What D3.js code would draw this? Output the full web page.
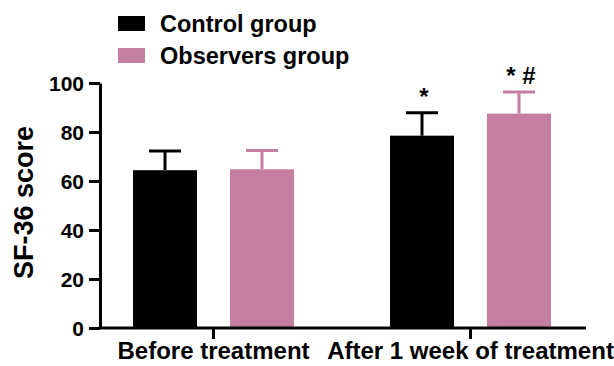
<!DOCTYPE html>
<html>
<head>
<meta charset="utf-8">
<script src="https://cdn.jsdelivr.net/npm/d3@7/dist/d3.min.js"></script>
<style>
  html, body { margin: 0; padding: 0; background: #fff; }
  svg text { font-family: "Liberation Sans", Arial, sans-serif; font-weight: bold; fill: #000; }
</style>
</head>
<body>
<svg id="chart" width="614" height="366"></svg>
<script>
const categories = ["Before treatment", "After 1 week of treatment"];
const seriesNames = ["Control group", "Observers group"];
const controlMeans = [64.4, 78.5];
const controlSD = [7.8, 9.4];
const observersMeans = [64.8, 87.5];
const observersSD = [7.6, 8.8];
const annotations = [["", ""], ["*", "* #"]];
const yTicks = [0, 20, 40, 60, 80, 100];
const colors = ["#000000", "#c47e9f"];

const svg = d3.select("#chart");
const y = d3.scaleLinear().domain([0, 100]).range([328, 83]);
const x0 = d3.scaleBand().domain(categories).range([85, 599]).paddingInner(0).paddingOuter(0);
const x1 = d3.scaleBand().domain(seriesNames).range([48, 209]).paddingInner(0.34).paddingOuter(0);

const rows = [];
categories.forEach((c, i) => {
  rows.push({ cat: c, series: seriesNames[0], mean: controlMeans[i], sd: controlSD[i], note: annotations[i][0], color: colors[0] });
  rows.push({ cat: c, series: seriesNames[1], mean: observersMeans[i], sd: observersSD[i], note: annotations[i][1], color: colors[1] });
});

// error bars (upper only)
const eb = svg.append("g");
rows.forEach(d => {
  const cx = x0(d.cat) + x1(d.series) + x1.bandwidth() / 2;
  eb.append("line").attr("x1", cx).attr("x2", cx).attr("y1", y(d.mean)).attr("y2", y(d.mean + d.sd))
    .attr("stroke", d.color).attr("stroke-width", 3);
  eb.append("line").attr("x1", cx - x1.bandwidth() / 4).attr("x2", cx + x1.bandwidth() / 4)
    .attr("y1", y(d.mean + d.sd)).attr("y2", y(d.mean + d.sd))
    .attr("stroke", d.color).attr("stroke-width", 3);
});

// bars
svg.append("g").selectAll("rect").data(rows).join("rect")
  .attr("x", d => x0(d.cat) + x1(d.series))
  .attr("y", d => y(d.mean))
  .attr("width", x1.bandwidth())
  .attr("height", d => y(0) - y(d.mean))
  .attr("fill", d => d.color);

// annotations
svg.append("g").selectAll("text").data(rows.filter(d => d.note)).join("text")
  .attr("x", d => x0(d.cat) + x1(d.series) + x1.bandwidth() / 2 + 2)
  .attr("y", d => y(d.mean + d.sd) - 8)
  .attr("text-anchor", "middle")
  .style("font-size", "24px")
  .text(d => d.note);

// y axis
const yAxis = svg.append("g").attr("transform", "translate(100,0)")
  .call(d3.axisLeft(y).tickValues(yTicks).tickSize(11).tickSizeOuter(0).tickPadding(5));
yAxis.select(".domain").attr("stroke", "#000").attr("stroke-width", 3);
yAxis.selectAll(".tick line").attr("stroke", "#000").attr("stroke-width", 3);
yAxis.selectAll(".tick text").style("font-size", "21px").attr("dy", "0.36em");

// x axis
const xAxis = svg.append("g").attr("transform", `translate(0,${y(0)})`)
  .call(d3.axisBottom(x0).tickSize(11).tickSizeOuter(0).tickPadding(3));
xAxis.select(".domain").remove();
xAxis.selectAll(".tick line").attr("stroke", "#000").attr("stroke-width", 3);
xAxis.selectAll(".tick text").style("font-size", "24px");
svg.append("line").attr("x1", 98.5).attr("x2", 586).attr("y1", y(0)).attr("y2", y(0))
  .attr("stroke", "#000").attr("stroke-width", 3);

// y title
svg.append("text")
  .attr("transform", `translate(33,${(y(0) + y(100)) / 2 - 3}) rotate(-90)`)
  .attr("text-anchor", "middle")
  .style("font-size", "27px")
  .text("SF-36 score");

// legend
const legend = svg.append("g").selectAll("g").data(seriesNames).join("g")
  .attr("transform", (d, i) => `translate(118,${16 + i * 32})`);
legend.append("rect").attr("width", 27).attr("height", 15).attr("fill", (d, i) => colors[i]);
legend.append("text").attr("x", 42).attr("y", 15.5).style("font-size", "23.5px").text(d => d);
</script>
</body>
</html>
